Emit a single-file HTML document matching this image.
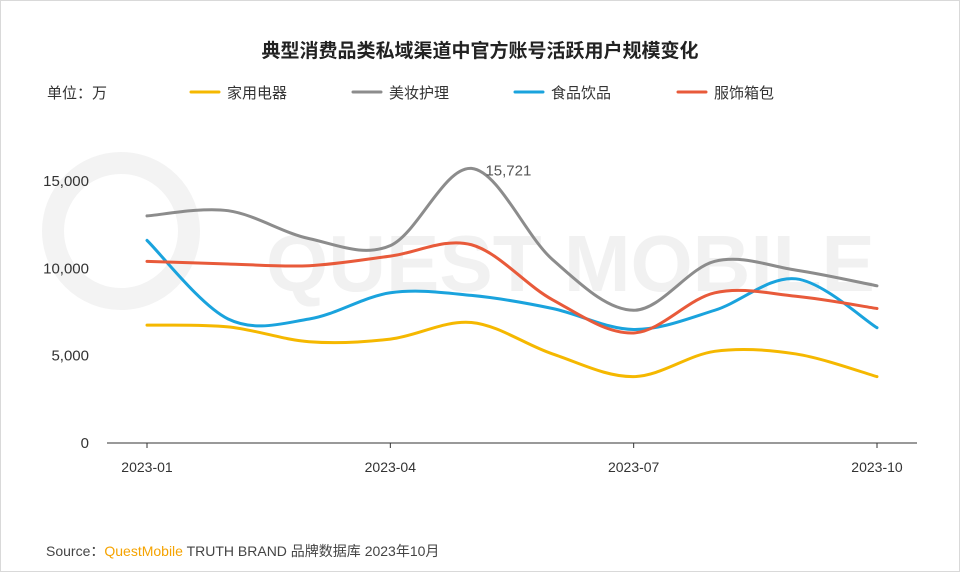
<!DOCTYPE html>
<html><head><meta charset="utf-8">
<style>
html,body{margin:0;padding:0;background:#fff;}
body{width:960px;height:572px;overflow:hidden;font-family:"Liberation Sans","Noto Sans CJK SC",sans-serif;}
#wrap{position:relative;width:958px;height:570px;border:1px solid #d9d9d9;}
svg text{font-family:"Liberation Sans","Noto Sans CJK SC",sans-serif;}
</style></head>
<body>
<div id="wrap">
<svg id="chart" width="958" height="570">
  <text x="479" y="56" text-anchor="middle" font-size="19" font-weight="bold" fill="#222">典型消费品类私域渠道中官方账号活跃用户规模变化</text>
  <text x="46" y="97" font-size="15" fill="#333">单位：万</text>
  <g>
    <circle cx="120" cy="230" r="68" fill="none" stroke="#f3f3f3" stroke-width="22"/>
    <text x="265" y="290" font-size="80" fill="#f1f1f1" font-weight="bold">QUEST MOBILE</text>
  </g>
  <g id="legend"></g>
  <g id="axes"></g>
  <g id="series"></g>
  <text x="45" y="555" font-size="14" fill="#444">Source：<tspan fill="#f5a300">QuestMobile</tspan> TRUTH BRAND 品牌数据库 2023年10月</text>
</svg>
</div>
<script>
const months = ["2023-01","2023-02","2023-03","2023-04","2023-05","2023-06","2023-07","2023-08","2023-09","2023-10"];
const xTickLabels = ["2023-01","2023-04","2023-07","2023-10"];
const yTicks = [0,5000,10000,15000];
const seriesNames = ["家用电器","美妆护理","食品饮品","服饰箱包"];
const appliances = [6750,6650,5800,5950,6900,5100,3800,5250,5100,3800];
const beauty = [13000,13300,11700,11300,15721,10500,7600,10400,9900,9000];
const food = [11600,7100,7100,8600,8450,7700,6500,7600,9400,6600];
const apparel = [10400,10250,10150,10700,11350,8200,6300,8600,8400,7700];
const colors = ["#f5b800","#8c8c8c","#1aa3dd","#e85a3a"];
const allSeries = [appliances,beauty,food,apparel];
const NS="http://www.w3.org/2000/svg";
const x0=146,x1=876,yBase=442,yTop=180;
function xs(i){return x0+(x1-x0)*i/(months.length-1);}
function ys(v){return yBase-(yBase-yTop)*v/15000;}
function mk(t,a,p){const e=document.createElementNS(NS,t);for(const k in a)e.setAttribute(k,a[k]);p.appendChild(e);return e;}
const axes=document.getElementById('axes');
const ax=mk('line',{x1:106,x2:916,y1:yBase,y2:yBase,stroke:'#333','stroke-width':1},axes);


yTicks.forEach(v=>{const t=mk('text',{x:88,y:ys(v)+5,'text-anchor':'end','font-size':15,fill:'#333'},axes);t.textContent=v.toLocaleString('en-US');

});
xTickLabels.forEach(l=>{const i=months.indexOf(l);const t=mk('text',{x:xs(i),y:471,'text-anchor':'middle','font-size':14,fill:'#333'},axes);t.textContent=l;


mk('line',{x1:xs(i),x2:xs(i),y1:yBase,y2:yBase+5,stroke:'#333'},axes);});
function path(vals){const p=vals.map((v,i)=>[xs(i),ys(v)]);let d=`M${p[0][0]},${p[0][1]}`;
for(let i=0;i<p.length-1;i++){const a=p[Math.max(0,i-1)],b=p[i],c=p[i+1],e=p[Math.min(p.length-1,i+2)];
const c1=[b[0]+(c[0]-a[0])/6,b[1]+(c[1]-a[1])/6],c2=[c[0]-(e[0]-b[0])/6,c[1]-(e[1]-b[1])/6];
d+=` C${c1[0]},${c1[1]} ${c2[0]},${c2[1]} ${c[0]},${c[1]}`;}return d;}
const sg=document.getElementById('series');
const order=[0,2,3,1];
order.forEach(k=>{const el=mk('path',{d:path(allSeries[k]),fill:'none',stroke:colors[k],'stroke-width':3,'stroke-linecap':'round'},sg);

});
const mi=beauty.indexOf(Math.max(...beauty));
const lab=mk('text',{x:xs(mi)+14,y:ys(beauty[mi])+7,'font-size':15,fill:'#555'},sg);
lab.textContent=beauty[mi].toLocaleString('en-US');


const lg=document.getElementById('legend');
const lx=[190,352,514,677];
seriesNames.forEach((n,k)=>{const g=mk('g',{},lg);


mk('line',{x1:lx[k],x2:lx[k]+28,y1:91,y2:91,stroke:colors[k],'stroke-width':3,'stroke-linecap':'round'},g);
const t=mk('text',{x:lx[k]+36,y:97,'font-size':15,fill:'#333'},g);t.textContent=n;});
</script>
</body></html>
